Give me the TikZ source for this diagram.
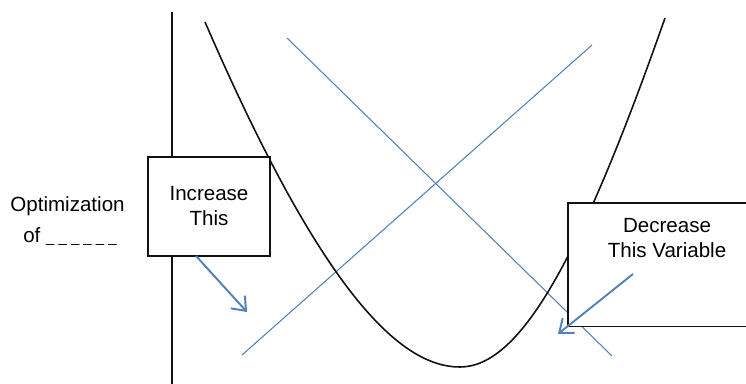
\documentclass[tikz,border=0pt]{standalone}
\usepackage{fontspec}
\setmainfont{Liberation Sans}
\usepackage{xcolor}
\definecolor{curvecolor}{HTML}{111111}
\definecolor{guidecolor}{HTML}{4F81BD}
\usetikzlibrary{positioning,arrows.meta}
\tikzset{
    framebox/.style={
        rectangle,
        draw=curvecolor,
        fill=white,
        line width=0.8pt,
        align=center,
        font=\fontsize{11.7}{14.2}\selectfont,
    },
    boxedge/.style={
        curvecolor,
        line width=0.8pt,
    },
    boxtext/.style={
        align=center,
        inner sep=0pt,
        font=\fontsize{11.7}{14.2}\selectfont,
    },
    sidetext/.style={
        inner sep=0pt,
        font=\fontsize{11.7}{14.2}\selectfont,
    },
    guide/.style={
        guidecolor,
        line width=0.6pt,
    },
    cue/.style={
        -{Straight Barb[length=2.4mm,width=3.8mm]},
        guidecolor,
        line width=1.1pt,
    },
    curveline/.style={
        curvecolor,
        line width=0.9pt,
    },
}
\newcommand{\blankline}{{\fontsize{8.5}{10}\selectfont\_ \_ \_ \_ \_ \_}}

\begin{document}
\begin{tikzpicture}[x=0.02cm, y=-0.02cm]
    \useasboundingbox (0,0) rectangle (746,384);

    % Axis and crossing lines
    \draw[curveline] (172,12) -- (172,384);
    \draw[guide] (287,38) -- (612,356);
    \draw[guide] (242,355) -- (592,45);

    % Curve
    \draw[curveline] (205,22) .. controls (322,292) and (400,367) .. (460,367)
        .. controls (520,367) and (580,260) .. (665,18);

    % Label
    \node[sidetext, anchor=base] (opt) at (67.5,212) {Optimization};
    \node[sidetext, anchor=base] (blank) at (70,243) {of \blankline};

    % Boxes
    \node[framebox, minimum width=2.44cm, minimum height=1.98cm] (incbox) at (209,206.5) {Increase\\This};
    \node[framebox, draw=none, anchor=north west, minimum width=4.6cm, minimum height=2.44cm] (decbox) at (568,203) {};
    \draw[boxedge] (decbox.north east) -- (decbox.north west) -- (decbox.south west) -- (decbox.south east);
    \node[boxtext, anchor=north] (dectext) at (667,218) {Decrease\\This Variable};

    % Arrows
    \coordinate (inctail) at (196,256);
    \coordinate (inctip) at (247,312);
    \coordinate (dectail) at (633,274);
    \coordinate (dectip) at (558,334);
    \draw[cue] (inctail) -- (inctip);
    \draw[cue] (dectail) -- (dectip);

\end{tikzpicture}
\end{document}
